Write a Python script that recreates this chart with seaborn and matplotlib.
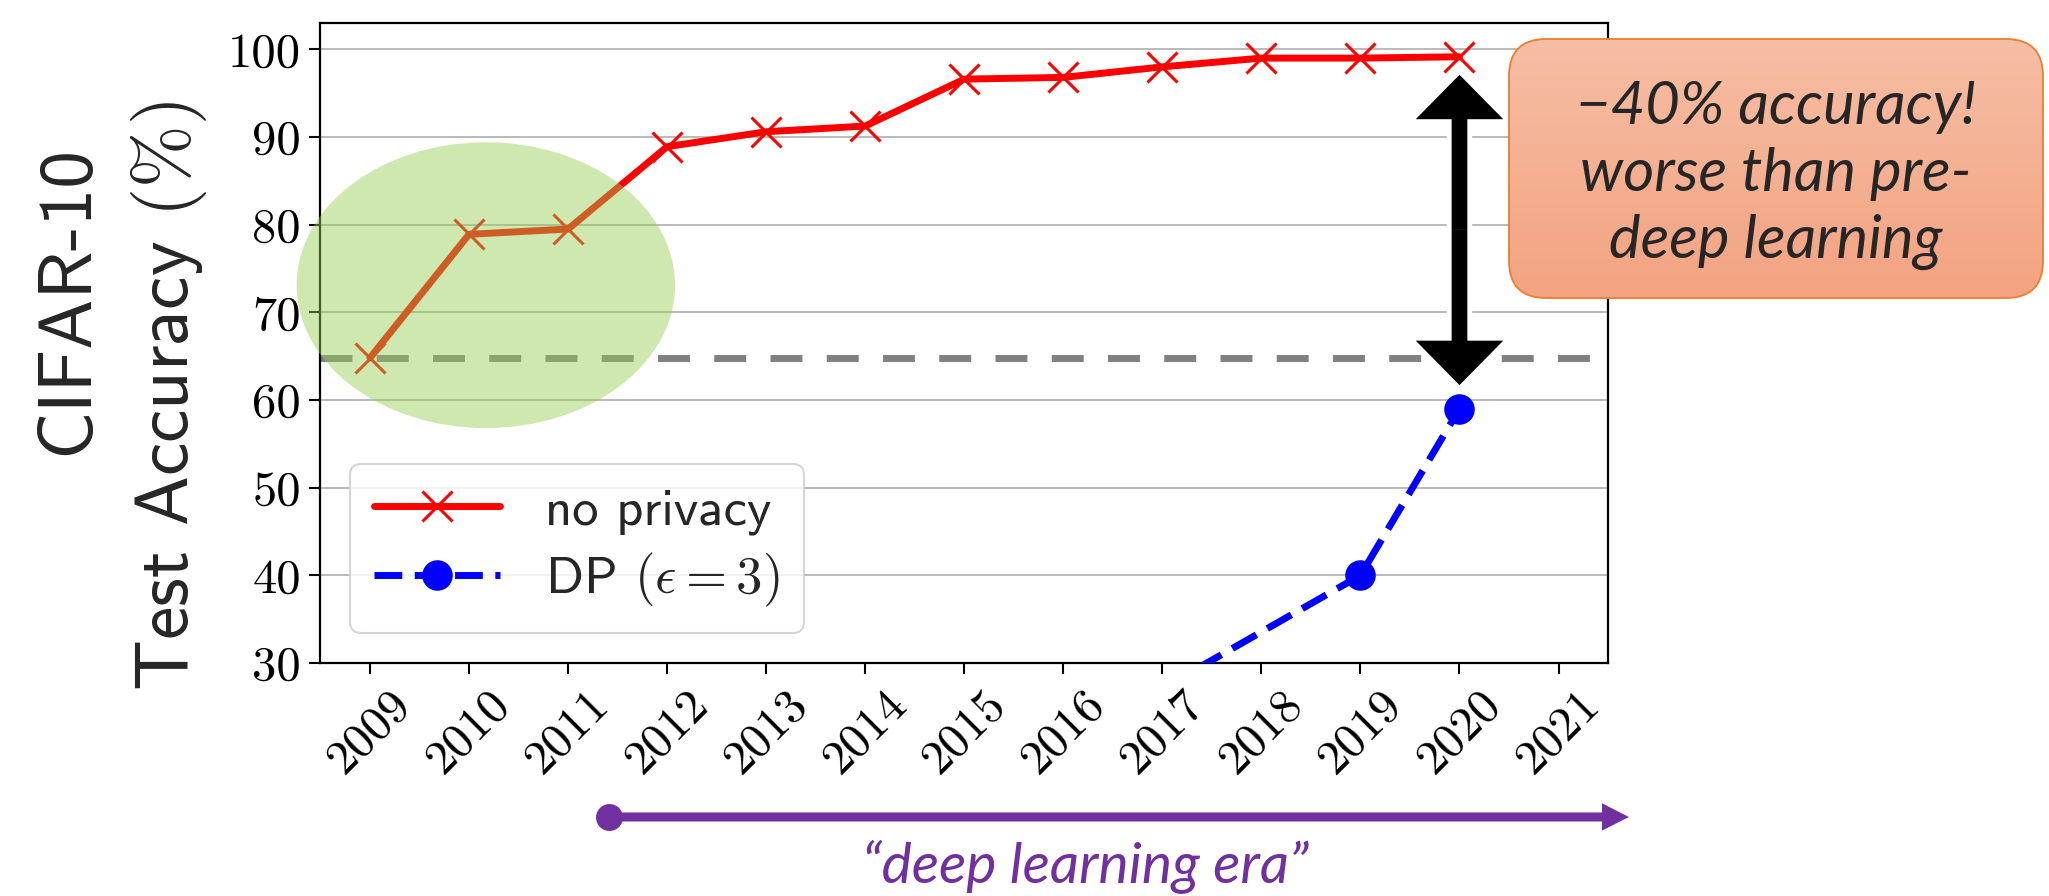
import numpy as np
import pandas as pd
import matplotlib
matplotlib.use("Agg")
import matplotlib.pyplot as plt
import seaborn as sns
from matplotlib.patches import Ellipse, FancyBboxPatch
from matplotlib.lines import Line2D
from matplotlib.colors import LinearSegmentedColormap

# data
years = list(range(2009, 2022))
nopriv_years = [2009, 2010, 2011, 2012, 2013, 2014, 2015, 2016, 2017, 2018, 2019, 2020]
nopriv_acc = [64.8, 78.9, 79.5, 88.9, 90.6, 91.25, 96.6, 96.8, 98.0, 99.0, 99.0, 99.15]
dp_years = [2017, 2019, 2020]
dp_acc = [27.1, 40.0, 59.0]
pre_dl_baseline = 64.8
yticks = [30, 40, 50, 60, 70, 80, 90, 100]

purple = "#7030a0"
text_font = ["Lato", "DejaVu Sans"]

sns.set_style("white")
plt.rcParams["mathtext.fontset"] = "cm"

fig = plt.figure(figsize=(20.49, 8.96), dpi=100)
ax = fig.add_axes([0.1564, 0.26, 0.6284, 0.7143])

ax.yaxis.grid(True, color="#b4b4b4", lw=1.3)
ax.set_axisbelow(True)

df_np = pd.DataFrame({"year": nopriv_years, "acc": nopriv_acc})
df_dp = pd.DataFrame({"year": dp_years, "acc": dp_acc})

ax.axhline(pre_dl_baseline, color="gray", lw=5, ls=(0, (4.6, 3.5)), zorder=2)
sns.lineplot(data=df_np, x="year", y="acc", ax=ax, color="red", lw=5, marker="x",
             markersize=21, markeredgewidth=2.2, markeredgecolor="red",
             label="no privacy", zorder=3)
sns.lineplot(data=df_dp, x="year", y="acc", ax=ax, color="blue", lw=5, ls=(0, (4, 1.8)),
             marker="o", markersize=22, markeredgewidth=0, markeredgecolor="blue",
             label=r"DP $(\epsilon=3)$", zorder=3)

ax.set_xlim(2008.5, 2021.5)
ax.set_ylim(30, 103)
ax.set_xticks(years)
ax.set_xticklabels([str(y) for y in years], rotation=45, fontfamily="cmr10", fontsize=35)
ax.set_yticks(yticks)
ax.set_yticklabels([str(v) for v in yticks], fontfamily="cmr10", fontsize=35)
ax.tick_params(bottom=True, left=True, direction="out", length=8, width=1.5,
               colors="black", pad=6)
ax.set_xlabel("")
ax.set_ylabel("")
for s in ax.spines.values():
    s.set_color("black")
    s.set_linewidth(1.6)

leg = ax.legend(loc="lower left", bbox_to_anchor=(0.023, 0.047), borderaxespad=0,
                prop={"family": "cmss10", "size": 38}, handlelength=2.4,
                handletextpad=0.85, labelspacing=0.3, borderpad=0.45,
                fancybox=True, framealpha=0.8, edgecolor="#cccccc")
leg.get_frame().set_linewidth(1.5)

# green highlight over the pre-deep-learning years
ax.add_patch(Ellipse((2010.17, 73.1), 3.82, 32.6, facecolor="#96cd51", alpha=0.46,
                     edgecolor="none", zorder=6, clip_on=False))

# double-headed black arrow (white halo first)
arr_top, arr_bot = 97.1, 61.7
arr_mid = (arr_top + arr_bot) / 2
style = "simple,head_length=32,head_width=63,tail_width=11.3"
for end in (arr_top, arr_bot):
    ax.annotate("", xy=(2020, end), xytext=(2020, arr_mid),
                arrowprops=dict(arrowstyle=style, mutation_scale=1, fc="white",
                                ec="white", lw=7, shrinkA=0, shrinkB=0), zorder=7)
for end in (arr_top, arr_bot):
    ax.annotate("", xy=(2020, end), xytext=(2020, arr_mid),
                arrowprops=dict(arrowstyle=style, mutation_scale=1, fc="black",
                                ec="none", lw=0, shrinkA=0, shrinkB=0), zorder=8)

# y label, two lines
fig.text(0.0425, 0.665, "CIFAR-10", rotation=90, rotation_mode="anchor",
         ha="center", va="baseline", family="cmss10", fontsize=54)
fig.text(0.0918, 0.558, r"Test Accuracy $(\%)$", rotation=90, rotation_mode="anchor",
         ha="center", va="baseline", family="cmss10", fontsize=54)

# callout box with gradient
box_ax = fig.add_axes([1508 / 2049, 1 - 299 / 896, 536 / 2049, 261 / 896])
box_ax.set_xlim(0, 536)
box_ax.set_ylim(0, 261)
box_ax.axis("off")
box = FancyBboxPatch((1, 1), 534, 259, boxstyle="round,pad=0,rounding_size=37",
                     fc="none", ec="#ed7d31", lw=1.3, zorder=3)
box_ax.add_patch(box)
grad = LinearSegmentedColormap.from_list("g", ["#f6bea4", "#f3a381"])
im = box_ax.imshow(np.linspace(0, 1, 256).reshape(-1, 1), cmap=grad, aspect="auto",
                   extent=(0, 536, 0, 261), origin="upper", zorder=1)
im.set_clip_path(box)
box_ax.text(268, 124, "\u221240% accuracy!\nworse than pre-\ndeep learning",
            ha="center", va="center", fontsize=43, style="italic", family=text_font,
            linespacing=1.3, zorder=4)

# "deep learning era" arrow below the axis
ax.annotate("", xy=(0.795, 0.0882), xytext=(0.2972, 0.0882), xycoords="figure fraction",
            arrowprops=dict(arrowstyle="simple,head_length=19.4,head_width=19.7,tail_width=6.5",
                            mutation_scale=1, fc=purple, ec="none", lw=0,
                            shrinkA=0, shrinkB=0), annotation_clip=False)
fig.add_artist(Line2D([0.2972], [0.0882], transform=fig.transFigure, marker="o",
                      markersize=19.4, color=purple, markeredgewidth=0))
fig.text(1085 / 2049, 1 - 883 / 896, "\u201cdeep learning era\u201d", ha="center",
         va="baseline", color=purple, fontsize=41, style="italic", family=text_font)

fig.savefig("out.png", dpi=100)
